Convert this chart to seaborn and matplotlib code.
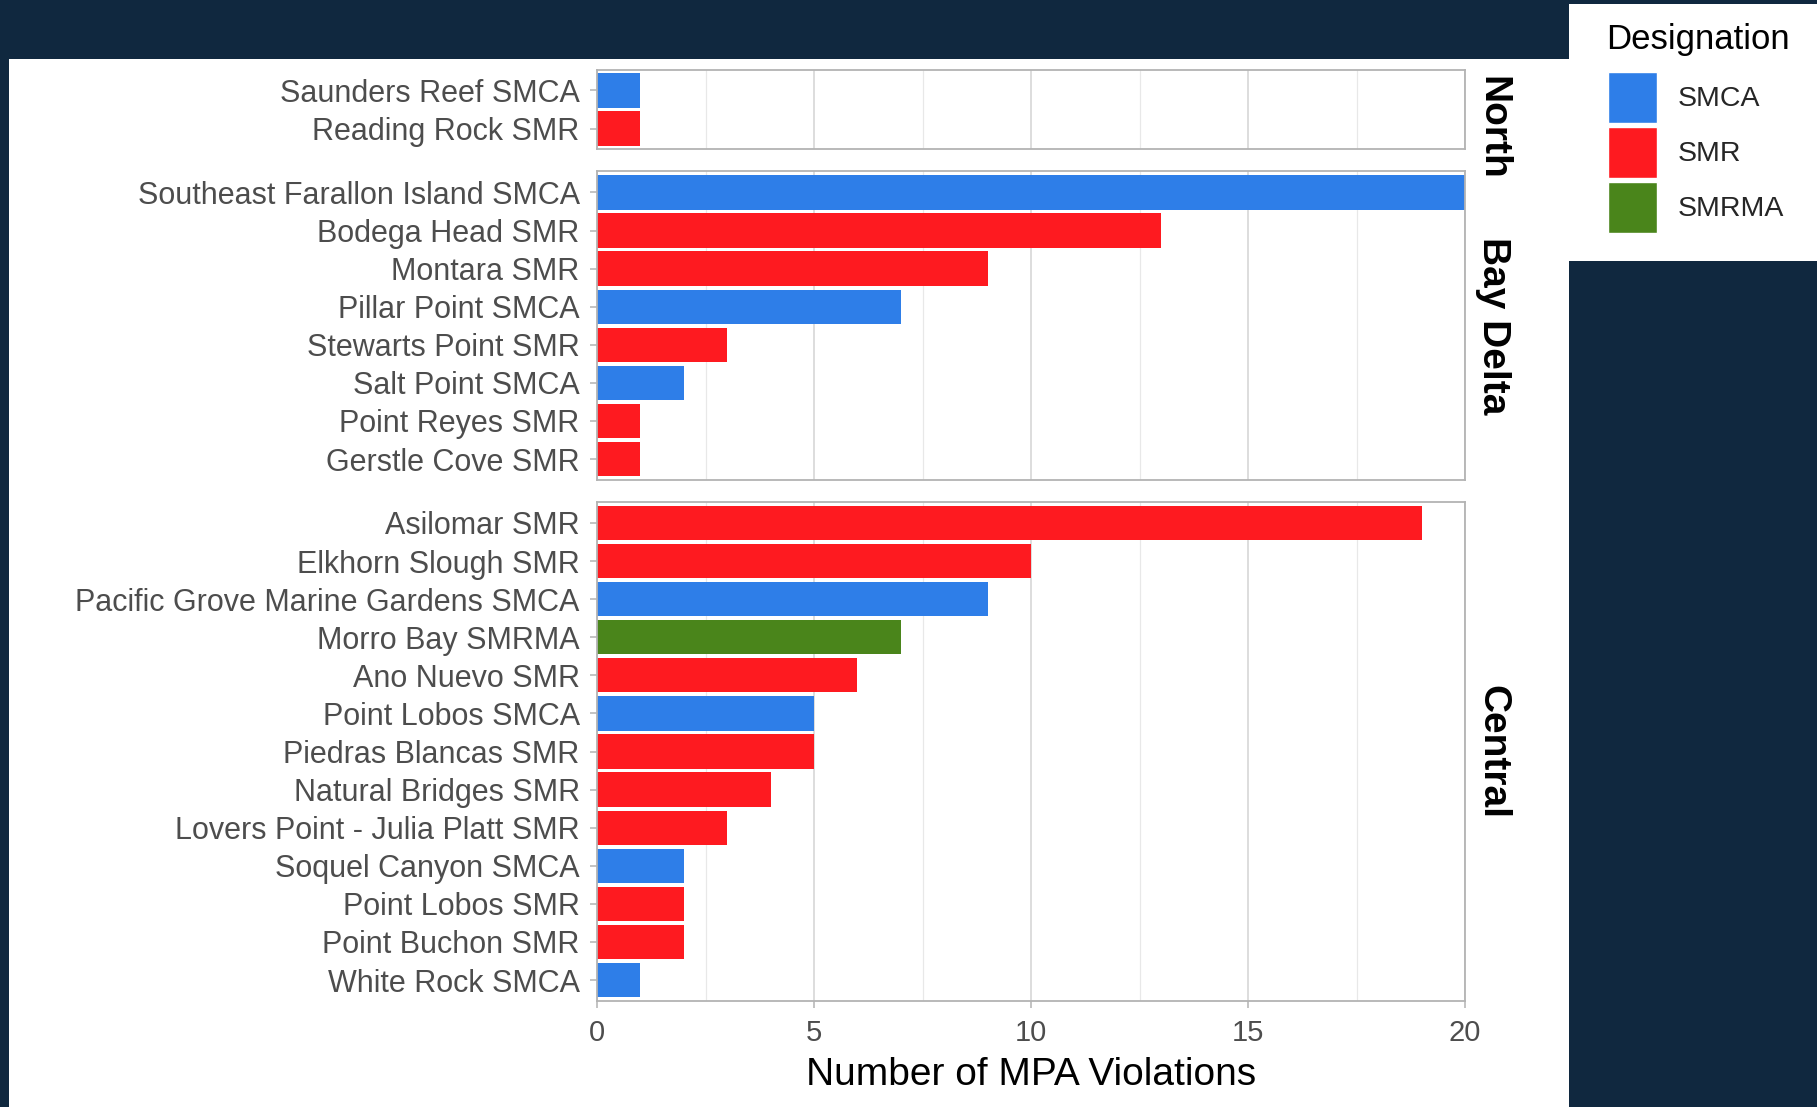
import matplotlib
matplotlib.use('Agg')
import matplotlib.pyplot as plt
from matplotlib.patches import Patch, Rectangle
import pandas as pd
import seaborn as sns

# data
north_mpas = ['Saunders Reef SMCA', 'Reading Rock SMR']
north_vals = [1, 1]
north_types = ['SMCA', 'SMR']

bay_mpas = ['Southeast Farallon Island SMCA', 'Bodega Head SMR', 'Montara SMR',
            'Pillar Point SMCA', 'Stewarts Point SMR', 'Salt Point SMCA',
            'Point Reyes SMR', 'Gerstle Cove SMR']
bay_vals = [20, 13, 9, 7, 3, 2, 1, 1]
bay_types = ['SMCA', 'SMR', 'SMR', 'SMCA', 'SMR', 'SMCA', 'SMR', 'SMR']

central_mpas = ['Asilomar SMR', 'Elkhorn Slough SMR', 'Pacific Grove Marine Gardens SMCA',
                'Morro Bay SMRMA', 'Ano Nuevo SMR', 'Point Lobos SMCA', 'Piedras Blancas SMR',
                'Natural Bridges SMR', 'Lovers Point - Julia Platt SMR', 'Soquel Canyon SMCA',
                'Point Lobos SMR', 'Point Buchon SMR', 'White Rock SMCA']
central_vals = [19, 10, 9, 7, 6, 5, 5, 4, 3, 2, 2, 2, 1]
central_types = ['SMR', 'SMR', 'SMCA', 'SMRMA', 'SMR', 'SMCA', 'SMR', 'SMR', 'SMR',
                 'SMCA', 'SMR', 'SMR', 'SMCA']

regions = ['North', 'Bay Delta', 'Central']
designations = ['SMCA', 'SMR', 'SMRMA']
colors = ['#2E7EE8', '#FE1A20', '#4A851B']

frames = []
for reg, m, v, t in [('North', north_mpas, north_vals, north_types),
                     ('Bay Delta', bay_mpas, bay_vals, bay_types),
                     ('Central', central_mpas, central_vals, central_types)]:
    frames.append(pd.DataFrame({'region': reg, 'mpa': m, 'violations': v, 'designation': t}))
df = pd.concat(frames, ignore_index=True)

sns.set_style('white')
plt.rcParams['font.family'] = ['Liberation Sans', 'DejaVu Sans']

W, H = 1817, 1107
fig = plt.figure(figsize=(W / 100, H / 100), dpi=100)
fig.patch.set_facecolor('#10283F')
# white plot area and legend box
fig.add_artist(Rectangle((9 / W, 0), (1569 - 9) / W, (H - 59) / H, transform=fig.transFigure,
                         facecolor='white', edgecolor='none', zorder=-2))
fig.add_artist(Rectangle((1569 / W, 1 - 261 / H), (W - 1569) / W, (261 - 4) / H,
                         transform=fig.transFigure, facecolor='white', edgecolor='none', zorder=-2))

counts = [len(north_mpas), len(bay_mpas), len(central_mpas)]
gs = fig.add_gridspec(3, 1, height_ratios=[c + 0.1 for c in counts],
                      left=597 / W, right=1465 / W, top=1 - 69.5 / H, bottom=1 - 1001 / H,
                      hspace=0.0744)

# vertical placement of the strip labels (North sits low in the reference)
strip_y = {'North': 0.27, 'Bay Delta': 0.5, 'Central': 0.5}

pal = dict(zip(designations, colors))
for i, reg in enumerate(regions):
    ax = fig.add_subplot(gs[i])
    sub = df[df['region'] == reg]
    sns.barplot(data=sub, x='violations', y='mpa', hue='designation', hue_order=designations,
                palette=pal, order=list(sub['mpa']), dodge=False, width=0.9, saturation=1,
                linewidth=0, legend=False, ax=ax)
    n = len(sub)
    ax.set_ylim(n - 0.45, -0.55)
    ax.set_xlim(0, 20)
    ax.set_xticks([0, 5, 10, 15, 20])
    ax.set_xticks([2.5, 7.5, 12.5, 17.5], minor=True)
    ax.set_axisbelow(True)
    ax.grid(True, axis='x', which='major', color='#DADADA', linewidth=1.3)
    ax.grid(True, axis='x', which='minor', color='#E8E8E8', linewidth=0.9)
    ax.grid(False, axis='y')
    for s in ax.spines.values():
        s.set_color('#B3B3B3')
        s.set_linewidth(1.3)
    ax.set_ylabel('')
    ax.tick_params(axis='y', length=5, width=1.1, color='#B3B3B3', labelsize=22,
                   labelcolor='#4D4D4D', pad=7.5, left=True)
    if i < 2:
        ax.tick_params(axis='x', bottom=False, labelbottom=False)
        ax.set_xlabel('')
    else:
        ax.tick_params(axis='x', which='major', length=5, width=1.1, color='#B3B3B3',
                       labelsize=21, labelcolor='#4D4D4D', pad=8, bottom=True)
        ax.tick_params(axis='x', which='minor', bottom=False)
        ax.set_xlabel('Number of MPA Violations', fontsize=28, color='black', labelpad=7)
    ax.text(1.032, strip_y[reg], reg, transform=ax.transAxes, rotation=270, ha='center',
            va='center', fontsize=28, fontweight='bold', color='black')

# legend: title drawn as its own text, keys via fig.legend
fig.text(1606 / W, 1 - 39.5 / H, 'Designation', ha='left', va='center', fontsize=25,
         color='black')
handles = [Patch(facecolor=c, edgecolor='white', linewidth=1) for c in colors]
leg = fig.legend(handles, designations, loc='upper left',
                 bbox_to_anchor=(1608 / W, 1 - 72 / H), frameon=False, fontsize=20.5,
                 handlelength=1.71, handleheight=2.4, handletextpad=0.73,
                 labelspacing=0.12, borderpad=0, borderaxespad=0)

fig.savefig('out.png', dpi=100, facecolor=fig.get_facecolor())
